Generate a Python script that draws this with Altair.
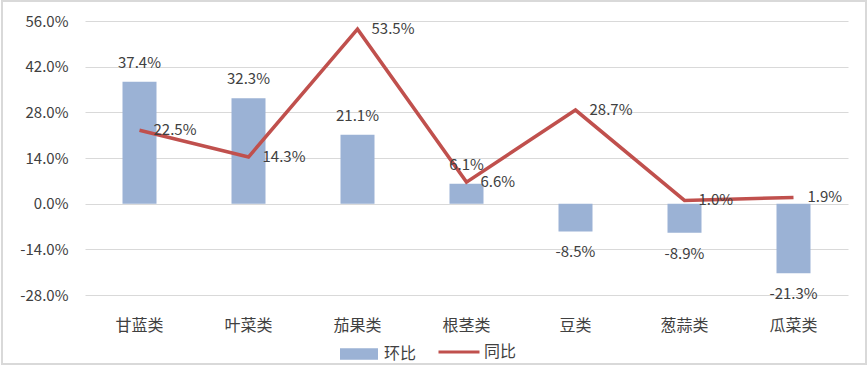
import altair as alt
import pandas as pd

categories = ["甘蓝类", "叶菜类", "茄果类", "根茎类", "豆类", "葱蒜类", "瓜菜类"]
huanbi = [37.4, 32.3, 21.1, 6.1, -8.5, -8.9, -21.3]
tongbi = [22.5, 14.3, 53.5, 6.6, 28.7, 1.0, 1.9]
y_ticks = [-28, -14, 0, 14, 28, 42, 56]

df = pd.DataFrame({"cat": categories, "hb": huanbi, "tb": tongbi,
                   "s1": "环比", "s2": "同比"})

FONT = "Noto Sans CJK SC"
TXT = "#404040"
BAR = "#9bb2d5"
LINE = "#c0504d"

def pct(field):
    return "replace(format(" + field + ", '.1f'), '\u2212', '-') + '%'"

x = alt.X("cat:N", sort=categories, title=None,
          scale=alt.Scale(paddingInner=0, paddingOuter=0),
          axis=alt.Axis(labelAngle=0, domain=False, ticks=False, labelPadding=22,
                        labelFontSize=16, labelColor=TXT, labelFont=FONT, grid=False))
yscale = alt.Scale(domain=[-28, 56], nice=False, zero=False)

base = alt.Chart(df)

border = base.mark_rect(fill=None, stroke="#d9d9d9", strokeWidth=1.5, clip=False).encode(
    x=alt.value(-83), x2=alt.value(781), y=alt.value(-20), y2=alt.value(343)
)

bars = base.mark_bar(size=34).encode(
    x=x,
    y=alt.Y("hb:Q", scale=yscale, title=None,
            axis=alt.Axis(values=y_ticks, labelExpr=pct("datum.value"),
                          domain=False, ticks=False, labelPadding=17, labelFontSize=15,
                          labelColor=TXT, labelFont=FONT, gridColor="#d9d9d9")),
    fill=alt.Fill("s1:N", scale=alt.Scale(domain=["环比"], range=[BAR]),
                  legend=alt.Legend(orient="none", legendX=255, legendY=314, title=None,
                                    symbolType="M-1,-0.3H1V0.3H-1Z", symbolSize=1444,
                                    symbolStrokeWidth=0, labelFontSize=16, labelFont=FONT,
                                    labelColor=TXT, labelOffset=6)),
)

line = base.mark_line(strokeWidth=3.5).encode(
    x=x,
    y=alt.Y("tb:Q", scale=yscale),
    stroke=alt.Stroke("s2:N", scale=alt.Scale(domain=["同比"], range=[LINE]),
                      legend=alt.Legend(orient="none", legendX=352, legendY=309, title=None,
                                        symbolType="stroke", symbolSize=1681,
                                        symbolStrokeWidth=3, labelFontSize=16, labelFont=FONT,
                                        labelColor=TXT, labelOffset=3)),
)

lab_pos = base.transform_filter("datum.hb >= 0").transform_calculate(
    t=pct("datum.hb")
).mark_text(baseline="middle", dy=-19, fontSize=15, font=FONT, color=TXT).encode(
    x=x, y=alt.Y("hb:Q", scale=yscale), text="t:N")

lab_neg = base.transform_filter("datum.hb < 0").transform_calculate(
    t=pct("datum.hb")
).mark_text(baseline="middle", dy=21, fontSize=15, font=FONT, color=TXT).encode(
    x=x, y=alt.Y("hb:Q", scale=yscale), text="t:N")

lab_line = base.transform_calculate(t=pct("datum.tb")).mark_text(
    align="left", baseline="middle", dx=14, fontSize=15, font=FONT, color=TXT
).encode(x=x, y=alt.Y("tb:Q", scale=yscale), text="t:N")

chart = alt.layer(border, bars, line, lab_pos, lab_neg, lab_line).resolve_scale(
    fill="independent", stroke="independent"
).properties(
    width=763, height=274,
    autosize=alt.AutoSizeParams(type="none"),
    padding={"left": 85, "top": 21, "right": 20, "bottom": 73},
    background="white",
).configure_view(stroke=None)

chart.save("out.html", embed_options={"renderer": "svg", "actions": False})
